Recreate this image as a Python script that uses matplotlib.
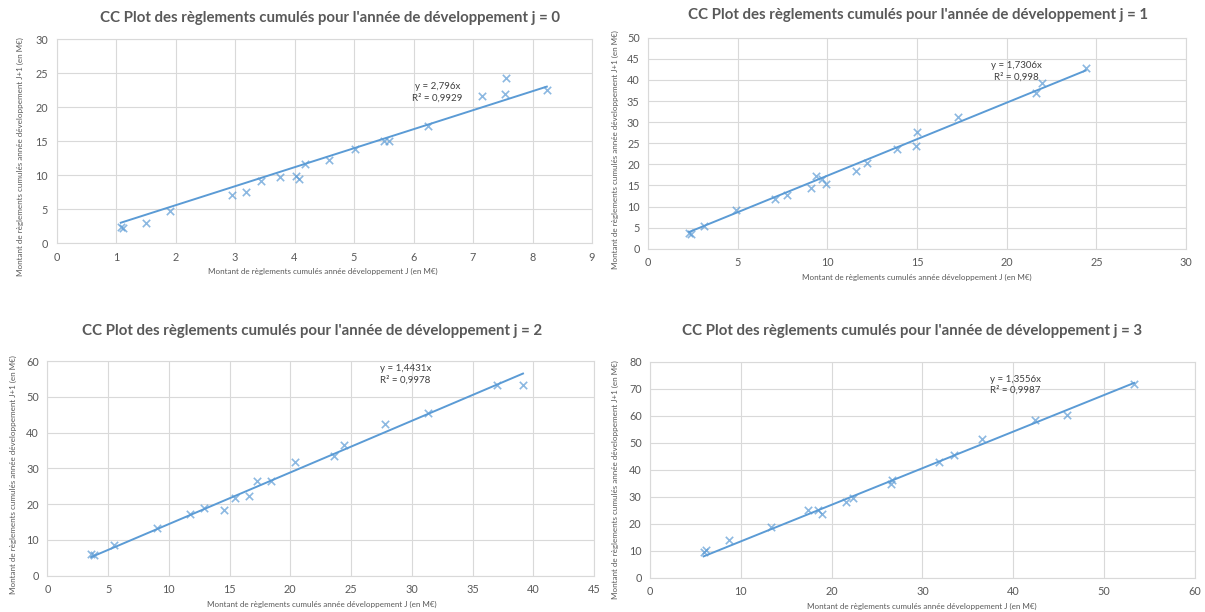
import numpy as np
import matplotlib
matplotlib.use('Agg')
from matplotlib import pyplot as plt

plt.rcParams['font.family'] = ['Lato', 'DejaVu Sans']

# j = 0
x_j0 = [1.08, 1.12, 1.50, 1.90, 2.95, 3.18, 3.43, 3.75, 4.03, 4.08, 4.17, 4.58,
        5.02, 5.50, 5.58, 6.25, 7.15, 7.53, 7.55, 8.24]
y_j0 = [2.4, 2.2, 3.0, 4.8, 7.1, 7.6, 9.1, 9.8, 9.9, 9.4, 11.6, 12.2,
        13.8, 15.0, 15.0, 17.2, 21.6, 22.0, 24.3, 22.6]
# j = 1
x_j1 = [2.30, 2.40, 3.10, 4.90, 7.10, 7.75, 9.10, 9.35, 9.70, 9.95, 11.60, 12.20,
        13.90, 14.95, 15.00, 17.30, 21.65, 21.95, 24.40]
y_j1 = [3.8, 3.5, 5.5, 9.1, 11.7, 12.8, 14.4, 17.2, 16.6, 15.4, 18.4, 20.4,
        23.7, 24.4, 27.7, 31.3, 37.0, 39.2, 42.8]
# j = 2
x_j2 = [3.60, 3.80, 5.45, 9.00, 11.75, 12.90, 14.50, 15.45, 16.60, 17.25, 18.40,
        20.40, 23.60, 24.45, 27.80, 31.35, 37.05, 39.15]
y_j2 = [6.0, 5.8, 8.6, 13.2, 17.3, 18.9, 18.4, 21.6, 22.3, 26.4, 26.4,
        31.9, 33.5, 36.4, 42.3, 45.6, 53.2, 53.2]
# j = 3
x_j3 = [5.90, 6.20, 8.75, 13.30, 17.35, 18.50, 18.90, 21.60, 22.40, 26.50, 26.60,
        31.85, 33.50, 36.50, 42.40, 45.90, 53.30]
y_j3 = [9.5, 10.3, 14.0, 18.9, 25.0, 25.3, 23.8, 28.1, 29.7, 34.9, 36.3,
        43.0, 45.6, 51.4, 58.4, 60.2, 71.9]

slopes = [2.796, 1.7306, 1.4431, 1.3556]
r2_labels = ['0,9929', '0,998', '0,9978', '0,9987']
slope_labels = ['2,796', '1,7306', '1,4431', '1,3556']
x_limits = [9, 30, 45, 60]
y_limits = [30, 50, 60, 80]
x_steps = [1, 5, 5, 10]
y_steps = [5, 5, 10, 10]

BLUE = '#5B9BD5'
GREY = '#595959'
GRID = '#D9D9D9'

# axes rectangles in figure fraction
rects = [[0.0469, 0.6025, 0.4444, 0.3333],
         [0.5378, 0.5936, 0.4465, 0.3448],
         [0.0393, 0.0593, 0.4537, 0.3508],
         [0.5394, 0.0556, 0.4523, 0.3529]]
title_pos = [(330, 18), (918, 15), (312, 331), (912, 331)]
xlab_pos = [(323, 271), (917, 277), (322, 604), (922, 606)]
ylab_pos = [(20, 157), (615, 150), (13, 475), (615, 480)]
eq_pos = [(0.711, 0.741), (0.684, 0.839), (0.655, 0.938), (0.671, 0.894)]

W, H = 1205, 612
fig = plt.figure(figsize=(W / 100, H / 100), dpi=100)

xs = [x_j0, x_j1, x_j2, x_j3]
ys = [y_j0, y_j1, y_j2, y_j3]

for i in range(4):
    ax = fig.add_axes(rects[i])
    x = np.array(xs[i])
    y = np.array(ys[i])
    ax.scatter(x, y, marker='x', s=28, color=BLUE, alpha=0.7, linewidths=1.2, zorder=3)
    xl = np.array([x.min(), x.max()])
    ax.plot(xl, slopes[i] * xl, color=BLUE, lw=1.4, zorder=2)

    ax.set_xlim(0, x_limits[i])
    ax.set_ylim(0, y_limits[i])
    ax.set_xticks(np.arange(0, x_limits[i] + 0.1, x_steps[i]))
    ax.set_yticks(np.arange(0, y_limits[i] + 0.1, y_steps[i]))
    ax.grid(True, color=GRID, lw=0.8)
    ax.set_axisbelow(True)
    for s in ax.spines.values():
        s.set_color(GRID)
        s.set_linewidth(0.8)
    ax.tick_params(length=0, labelsize=7.8, labelcolor=GREY, pad=6)

    ax.text(eq_pos[i][0], eq_pos[i][1],
            f'y = {slope_labels[i]}x\nR² = {r2_labels[i]}',
            transform=ax.transAxes, ha='center', va='center',
            fontsize=7, color='#404040', linespacing=1.3)

    fig.text(title_pos[i][0] / W, 1 - title_pos[i][1] / H,
             f"CC Plot des règlements cumulés pour l'année de développement j = {i}",
             ha='center', va='center', fontsize=10.8, fontweight='bold', color=GREY)
    fig.text(xlab_pos[i][0] / W, 1 - xlab_pos[i][1] / H,
             'Montant de règlements cumulés année développement J (en M€)',
             ha='center', va='center', fontsize=5.8, color=GREY)
    fig.text(ylab_pos[i][0] / W, 1 - ylab_pos[i][1] / H,
             'Montant de règlements cumulés année développement J+1 (en M€)',
             ha='center', va='center', fontsize=5.8, color=GREY, rotation=90)

fig.savefig('out.png', dpi=100)
